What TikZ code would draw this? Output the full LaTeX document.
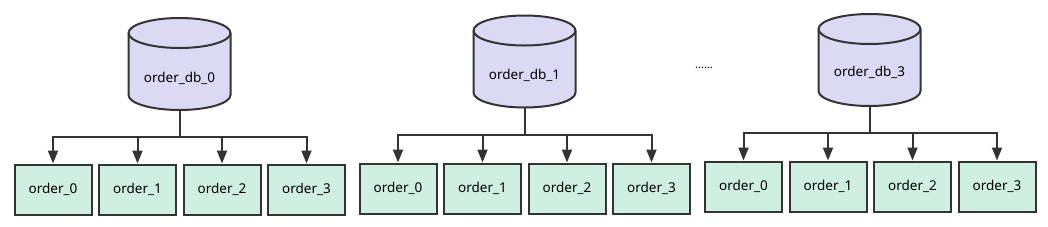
\documentclass[tikz,border=0pt]{standalone}
\usepackage{fontspec}
\setmainfont{Noto Sans}
\usetikzlibrary{arrows.meta,positioning}
\definecolor{dbfill}{HTML}{DADAF5}
\definecolor{tblfill}{HTML}{CFEFE3}
\definecolor{edge}{HTML}{333333}

\begin{document}
\begin{tikzpicture}[
  x=1pt,y=-1pt,
  font=\fontsize{13.5}{16}\selectfont,
  dbbox/.style={rectangle,minimum width=102pt,minimum height=92pt,inner sep=0pt,outer sep=0pt},
  dbshape/.style={fill=dbfill,draw=edge,line width=2pt,line join=round},
  tbl/.style={rectangle,draw=edge,line width=2pt,fill=tblfill,
    minimum width=77pt,minimum height=50pt,inner sep=0pt},
  wire/.style={line width=2pt,draw=edge},
  feed/.style={wire,-{Triangle[length=13pt,width=10pt]}},
  lbl/.style={inner sep=0pt}
]
\useasboundingbox (0,0) rectangle (1048,226);

% ================= one panel per database =================
\foreach \k/\cx/\cy/\ty/\by/\boxy/\xo in {
    0/179.5/64/78/137/189.5/53,
    1/524.5/61.5/75/135/188.5/398,
    3/869.5/60/72/133/186.5/743.5}{
  % cylinder
  \node[dbbox] (db\k) at (\cx,\cy) {};
  \draw[dbshape] ([yshift=-15pt]db\k.north west) -- ([yshift=15pt]db\k.south west)
    arc[start angle=180,end angle=360,x radius=51pt,y radius=15pt]
    -- ([yshift=-15pt]db\k.north east)
    arc[start angle=0,end angle=180,x radius=51pt,y radius=15pt] -- cycle;
  \draw[dbshape,fill=none] ([yshift=-15pt]db\k.north west)
    arc[start angle=180,end angle=360,x radius=51pt,y radius=15pt];
  \node[lbl] (n\k) at (\cx,\ty) {order\_db\_\k};
  % tables
  \coordinate (bus\k) at (\cx,\by);
  \draw[wire] (db\k.south) -- (bus\k);
  \foreach \j in {0,...,3}{
    \node[tbl] (t\k-\j) at ({\xo+84.5*\j},\boxy) {order\_\j};
    \draw[feed] (bus\k) -| (t\k-\j.north);
  }
}

% gap between panels
\node[font=\fontsize{11}{13}\selectfont,inner sep=0pt,anchor=base] (dots) at (704,68) {......};

\end{tikzpicture}
\end{document}
